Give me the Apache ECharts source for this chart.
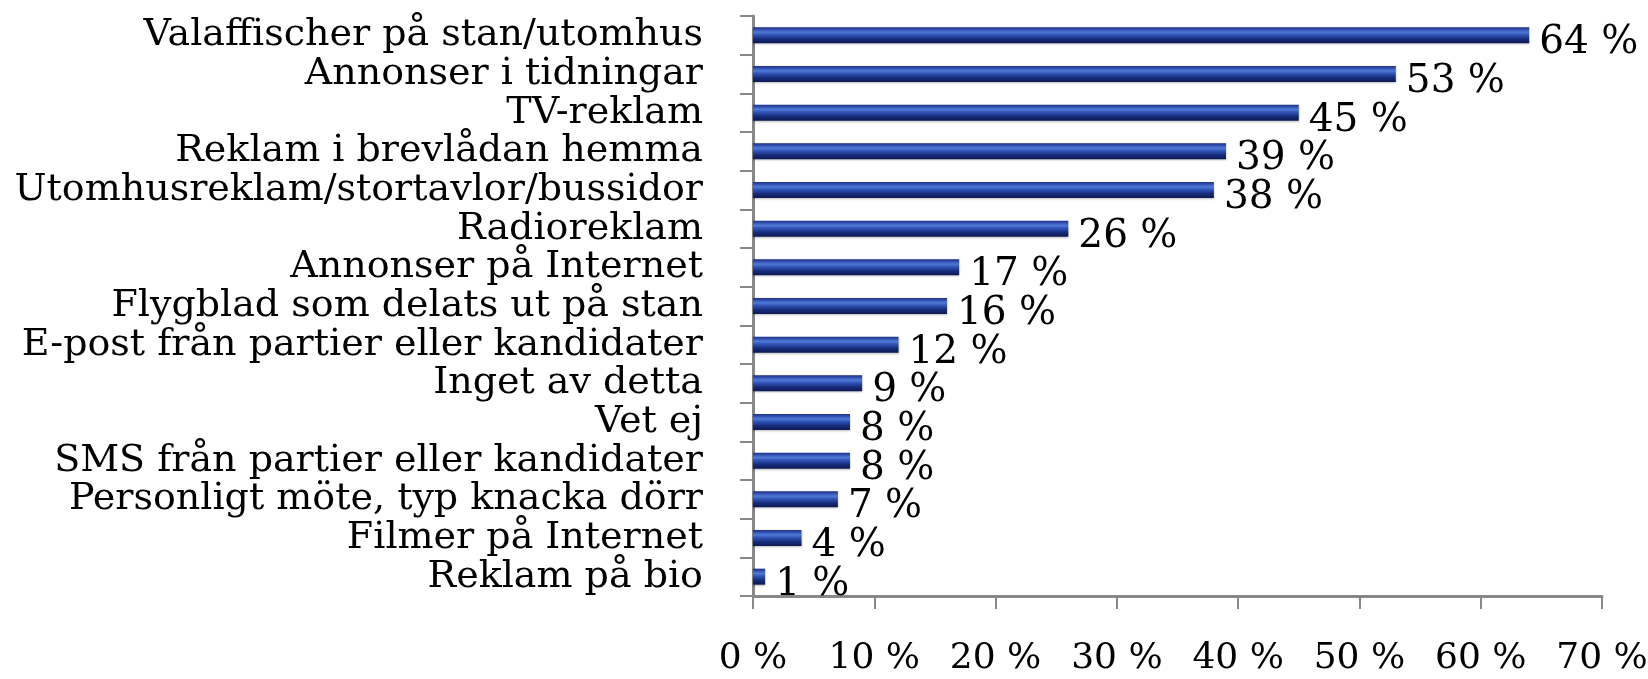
<!DOCTYPE html>
<html>
<head>
<meta charset="utf-8">
<script src="https://cdn.jsdelivr.net/npm/echarts@6/dist/echarts.min.js"></script>
<style>
  html, body { margin: 0; padding: 0; background: #fff; }
  #chart { width: 1648px; height: 679px; }
</style>
</head>
<body>
<div id="chart"></div>
<script>
    // categories top to bottom, as in the picture
    var categories = [
        'Valaffischer på stan/utomhus',
        'Annonser i tidningar',
        'TV-reklam',
        'Reklam i brevlådan hemma',
        'Utomhusreklam/stortavlor/bussidor',
        'Radioreklam',
        'Annonser på Internet',
        'Flygblad som delats ut på stan',
        'E-post från partier eller kandidater',
        'Inget av detta',
        'Vet ej',
        'SMS från partier eller kandidater',
        'Personligt möte, typ knacka dörr',
        'Filmer på Internet',
        'Reklam på bio'
    ];
    var values = [64, 53, 45, 39, 38, 26, 17, 16, 12, 9, 8, 8, 7, 4, 1];
    var xTicks = [0, 10, 20, 30, 40, 50, 60, 70];

    var fontFamily = '"DejaVu Serif", Georgia, serif';

    var chart = echarts.init(document.getElementById('chart'));

    var barColor = new echarts.graphic.LinearGradient(0, 0, 0, 1, [
        { offset: 0, color: '#1b2f8a' },
        { offset: 0.3, color: '#4f79d8' },
        { offset: 0.5, color: '#2d4fb0' },
        { offset: 0.75, color: '#152a78' },
        { offset: 1, color: '#0c1a52' }
    ]);

    var option = {
        animation: false,
        grid: {
            left: 753,
            right: 46,
            top: 16,
            bottom: 83,
            containLabel: false,
            outerBoundsMode: 'none'
        },
        xAxis: {
            type: 'value',
            min: xTicks[0],
            max: xTicks[xTicks.length - 1],
            interval: 10,
            splitLine: { show: false },
            axisLine: { show: true, lineStyle: { color: '#888', width: 3 } },
            axisTick: { show: true, length: 13, lineStyle: { color: '#888', width: 2 } },
            axisLabel: {
                margin: 45,
                color: '#000',
                fontFamily: fontFamily,
                fontSize: 36,
                hideOverlap: false,
                formatter: function (v) { return v + ' %'; }
            }
        },
        yAxis: {
            type: 'category',
            inverse: true,
            data: categories,
            axisLine: { show: true, lineStyle: { color: '#888', width: 3 } },
            axisTick: { show: true, length: 13, lineStyle: { color: '#888', width: 2 } },
            axisLabel: {
                interval: 0,
                margin: 50,
                color: '#000',
                fontFamily: fontFamily,
                fontSize: 38
            }
        },
        series: [{
            type: 'bar',
            data: values,
            barWidth: 16,
            itemStyle: {
                color: barColor,
                shadowColor: 'rgba(0,0,0,0.25)',
                shadowBlur: 2,
                shadowOffsetY: 1
            },
            label: {
                show: true,
                position: 'right',
                distance: 10,
                offset: [0, 8],
                color: '#000',
                fontFamily: fontFamily,
                fontSize: 39,
                formatter: function (p) { return p.value + ' %'; }
            }
        }]
    };

    chart.setOption(option);
</script>
</body>
</html>
